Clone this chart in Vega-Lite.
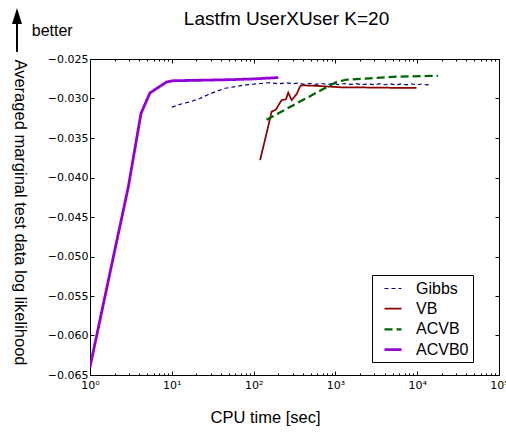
{
  "$schema": "https://vega.github.io/schema/vega-lite/v6.json",
  "autosize": "none",
  "width": 409,
  "height": 316,
  "padding": {"left": 90, "top": 59, "right": 7, "bottom": 57},
  "background": "white",
  "title": {"text": "Lastfm UserXUser K=20", "font": "Liberation Sans", "fontSize": 19, "fontWeight": "normal", "color": "black", "anchor": "middle", "frame": "group", "baseline": "alphabetic", "offset": -36, "dx": -8},
  "config": {
    "view": {"stroke": null},
    "axis": {"domainColor": "black", "domainWidth": 1, "tickColor": "black", "labelColor": "black", "labelFont": "DejaVu Sans", "labelFontSize": 11, "grid": false, "titleFont": "Liberation Sans", "titleFontSize": 16.5, "titleFontWeight": "normal", "titleColor": "black", "labelFlush": false, "labelOverlap": false}
  },
  "datasets": {
    "curves": [
      {"series": "Gibbs", "t": 10, "ll": -0.0311},
      {"series": "Gibbs", "t": 13, "ll": -0.0307},
      {"series": "Gibbs", "t": 17, "ll": -0.0304},
      {"series": "Gibbs", "t": 22, "ll": -0.0300},
      {"series": "Gibbs", "t": 28, "ll": -0.0295},
      {"series": "Gibbs", "t": 35, "ll": -0.0291},
      {"series": "Gibbs", "t": 45, "ll": -0.0287},
      {"series": "Gibbs", "t": 60, "ll": -0.0285},
      {"series": "Gibbs", "t": 75, "ll": -0.0283},
      {"series": "Gibbs", "t": 95, "ll": -0.0282},
      {"series": "Gibbs", "t": 120, "ll": -0.0281},
      {"series": "Gibbs", "t": 160, "ll": -0.0280},
      {"series": "Gibbs", "t": 200, "ll": -0.02815},
      {"series": "Gibbs", "t": 250, "ll": -0.0280},
      {"series": "Gibbs", "t": 300, "ll": -0.02812},
      {"series": "Gibbs", "t": 350, "ll": -0.02805},
      {"series": "Gibbs", "t": 420, "ll": -0.0282},
      {"series": "Gibbs", "t": 500, "ll": -0.02808},
      {"series": "Gibbs", "t": 580, "ll": -0.0282},
      {"series": "Gibbs", "t": 680, "ll": -0.0281},
      {"series": "Gibbs", "t": 800, "ll": -0.02822},
      {"series": "Gibbs", "t": 950, "ll": -0.0281},
      {"series": "Gibbs", "t": 1100, "ll": -0.02825},
      {"series": "Gibbs", "t": 1300, "ll": -0.0281},
      {"series": "Gibbs", "t": 1500, "ll": -0.02822},
      {"series": "Gibbs", "t": 1800, "ll": -0.02812},
      {"series": "Gibbs", "t": 2100, "ll": -0.02825},
      {"series": "Gibbs", "t": 2500, "ll": -0.02815},
      {"series": "Gibbs", "t": 3000, "ll": -0.02826},
      {"series": "Gibbs", "t": 3500, "ll": -0.02812},
      {"series": "Gibbs", "t": 4000, "ll": -0.02826},
      {"series": "Gibbs", "t": 4700, "ll": -0.02815},
      {"series": "Gibbs", "t": 5500, "ll": -0.02828},
      {"series": "Gibbs", "t": 6500, "ll": -0.02814},
      {"series": "Gibbs", "t": 7500, "ll": -0.02828},
      {"series": "Gibbs", "t": 8500, "ll": -0.02815},
      {"series": "Gibbs", "t": 10000, "ll": -0.02828},
      {"series": "Gibbs", "t": 11500, "ll": -0.02816},
      {"series": "Gibbs", "t": 13000, "ll": -0.02828},
      {"series": "Gibbs", "t": 15000, "ll": -0.0282},
      {"series": "VB", "t": 120, "ll": -0.0378},
      {"series": "VB", "t": 144, "ll": -0.0344},
      {"series": "VB", "t": 166, "ll": -0.03167},
      {"series": "VB", "t": 188, "ll": -0.03137},
      {"series": "VB", "t": 220, "ll": -0.0302},
      {"series": "VB", "t": 249, "ll": -0.0301},
      {"series": "VB", "t": 265, "ll": -0.02926},
      {"series": "VB", "t": 292, "ll": -0.0302},
      {"series": "VB", "t": 336, "ll": -0.02943},
      {"series": "VB", "t": 369, "ll": -0.0285},
      {"series": "VB", "t": 384, "ll": -0.02833},
      {"series": "VB", "t": 590, "ll": -0.0284},
      {"series": "VB", "t": 1140, "ll": -0.02858},
      {"series": "VB", "t": 2000, "ll": -0.0286},
      {"series": "VB", "t": 4000, "ll": -0.02863},
      {"series": "VB", "t": 6000, "ll": -0.02866},
      {"series": "VB", "t": 9800, "ll": -0.02866},
      {"series": "ACVB", "t": 144, "ll": -0.0327},
      {"series": "ACVB", "t": 680, "ll": -0.0289},
      {"series": "ACVB", "t": 1040, "ll": -0.0279},
      {"series": "ACVB", "t": 1374, "ll": -0.02762},
      {"series": "ACVB", "t": 2630, "ll": -0.02744},
      {"series": "ACVB", "t": 5600, "ll": -0.02724},
      {"series": "ACVB", "t": 14350, "ll": -0.02715},
      {"series": "ACVB", "t": 18000, "ll": -0.02713},
      {"series": "ACVB0", "t": 1, "ll": -0.0640},
      {"series": "ACVB0", "t": 2, "ll": -0.0493},
      {"series": "ACVB0", "t": 2.94, "ll": -0.0412},
      {"series": "ACVB0", "t": 4.2, "ll": -0.0319},
      {"series": "ACVB0", "t": 5.4, "ll": -0.0293},
      {"series": "ACVB0", "t": 8.66, "ll": -0.0279},
      {"series": "ACVB0", "t": 10.4, "ll": -0.02775},
      {"series": "ACVB0", "t": 20, "ll": -0.0277},
      {"series": "ACVB0", "t": 50, "ll": -0.02762},
      {"series": "ACVB0", "t": 100, "ll": -0.02752},
      {"series": "ACVB0", "t": 200, "ll": -0.02735}
    ]
  },
  "resolve": {"axis": {"x": "independent", "y": "independent"}},
  "layer": [
    {
      "data": {"name": "curves"},
      "mark": {"type": "line", "clip": true},
      "encoding": {
        "x": {
          "field": "t", "type": "quantitative",
          "scale": {"type": "log", "domain": [1, 100000], "nice": false},
          "axis": {
            "orient": "bottom",
            "values": [1,2,3,4,5,6,7,8,9,10,20,30,40,50,60,70,80,90,100,200,300,400,500,600,700,800,900,1000,2000,3000,4000,5000,6000,7000,8000,9000,10000,20000,30000,40000,50000,60000,70000,80000,90000,100000],
            "labelExpr": "abs(log(datum.value)/LN10 - round(log(datum.value)/LN10)) < 0.001 ? '10' + ['⁰','¹','²','³','⁴','⁵'][round(log(datum.value)/LN10)] : ''",
            "tickSize": {"condition": {"test": "abs(log(datum.value)/LN10 - round(log(datum.value)/LN10)) < 0.001", "value": -4}, "value": -2},
            "labelPadding": 8,
            "title": "CPU time [sec]",
            "titleX": 175,
            "titleY": 34
          }
        },
        "y": {
          "field": "ll", "type": "quantitative",
          "scale": {"domain": [-0.065, -0.025], "nice": false, "zero": false},
          "axis": {
            "orient": "left",
            "values": [-0.065,-0.06,-0.055,-0.05,-0.045,-0.04,-0.035,-0.03,-0.025],
            "format": ".3f",
            "tickSize": -4,
            "labelPadding": 6,
            "title": "Averaged marginal test data log likelihood",
            "titleAngle": 90,
            "titleBaseline": "middle",
            "titleX": -71,
            "titleY": 153
          }
        },
        "color": {
          "field": "series", "type": "nominal",
          "scale": {"domain": ["Gibbs", "VB", "ACVB", "ACVB0"], "range": ["#00008b", "#8b0000", "#006400", "#9400d3"]},
          "legend": {
            "title": null, "orient": "none", "legendX": 282, "legendY": 216,
            "fillColor": "white", "strokeColor": "black", "cornerRadius": 0, "padding": 4,
            "labelFont": "Liberation Sans", "labelFontSize": 16, "labelColor": "black",
            "symbolType": "stroke", "symbolSize": 289, "symbolOffset": 7, "labelOffset": 13, "rowPadding": 2.2,
            "labelExpr": "datum.label + '\u00a0\u00a0'"
          }
        },
        "strokeDash": {
          "field": "series", "type": "nominal",
          "scale": {"domain": ["Gibbs", "VB", "ACVB", "ACVB0"], "range": [[4, 3], [1, 0], [8, 4], [1, 0]]},
          "legend": null
        },
        "strokeWidth": {
          "field": "series", "type": "nominal",
          "scale": {"domain": ["Gibbs", "VB", "ACVB", "ACVB0"], "range": [1.2, 2.8, 3, 3]},
          "legend": null
        }
      }
    },
    {
      "data": {"name": "curves"},
      "mark": {"type": "point", "opacity": 0},
      "encoding": {
        "x": {
          "field": "t", "type": "quantitative",
          "axis": {
            "orient": "top",
            "values": [1,2,3,4,5,6,7,8,9,10,20,30,40,50,60,70,80,90,100,200,300,400,500,600,700,800,900,1000,2000,3000,4000,5000,6000,7000,8000,9000,10000,20000,30000,40000,50000,60000,70000,80000,90000,100000],
            "labels": false, "title": null,
            "tickSize": {"condition": {"test": "abs(log(datum.value)/LN10 - round(log(datum.value)/LN10)) < 0.001", "value": -4}, "value": -2}
          }
        },
        "y": {
          "field": "ll", "type": "quantitative",
          "axis": {
            "orient": "right",
            "values": [-0.065,-0.06,-0.055,-0.05,-0.045,-0.04,-0.035,-0.03,-0.025],
            "labels": false, "title": null, "tickSize": -4
          }
        }
      }
    },
    {
      "data": {"values": [{"t": 0.194, "v": -0.02209, "label": "better"}]},
      "mark": {"type": "text", "font": "Liberation Sans", "fontSize": 16, "align": "left", "baseline": "alphabetic", "color": "black"},
      "encoding": {
        "x": {"field": "t", "type": "quantitative", "axis": null},
        "y": {"field": "v", "type": "quantitative", "axis": null},
        "text": {"field": "label"}
      }
    },
    {
      "data": {"values": [{"t": 0.128, "v": -0.0241, "v2": -0.0201}]},
      "mark": {"type": "rule", "color": "black", "strokeWidth": 2},
      "encoding": {
        "x": {"field": "t", "type": "quantitative", "axis": null},
        "y": {"field": "v", "type": "quantitative", "axis": null},
        "y2": {"field": "v2"}
      }
    },
    {
      "data": {"values": [{"t": 0.128, "v": -0.019557}]},
      "mark": {"type": "point", "shape": "M0,-1L0.625,1L-0.625,1Z", "size": 256, "filled": true, "color": "black", "opacity": 1},
      "encoding": {
        "x": {"field": "t", "type": "quantitative", "axis": null},
        "y": {"field": "v", "type": "quantitative", "axis": null}
      }
    }
  ]
}
